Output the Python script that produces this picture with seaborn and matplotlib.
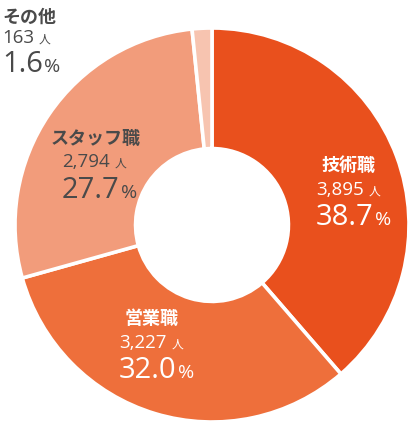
import seaborn as sns
import matplotlib.pyplot as plt

# データ
categories = ["技術職", "営業職", "スタッフ職", "その他"]
counts = [3895, 3227, 2794, 163]
percents = [38.7, 32.0, 27.7, 1.6]
colors = sns.color_palette(["#E9501D", "#EE6F3B", "#F29C7B", "#F7C4B0"])

sns.set_style("white")
plt.rcParams["font.family"] = ["Noto Sans CJK JP", "DejaVu Sans"]

fig = plt.figure(figsize=(4.17, 4.32), dpi=100)
# 中心 (212,225) 半径 197px
cx, cy, R = 212, 225, 197
W, H = 417, 432
ax = fig.add_axes([(cx - R) / W, (H - cy - R) / H, 2 * R / W, 2 * R / H])

ax.pie(
    counts,
    colors=colors,
    startangle=90,
    counterclock=False,
    radius=1,
    wedgeprops={"width": 0.612, "edgecolor": "white", "linewidth": 2.6},
)
ax.set_xlim(-1, 1)
ax.set_ylim(-1, 1)
ax.set_aspect("equal")
ax.axis("off")


def px(x, y):
    return (x - cx) / R, (cy - y) / R


# ラベル配置 (ピクセル): 名前中心x, 名前ベースライン, 数字左端, 数字ベースライン, %ベースライン, 色
label_pos = [
    (348, 171, 316, 195, 225, "white"),
    (152, 324, 119, 348, 378, "white"),
    (96, 144, 62, 167, 198, "#4a4a4a"),
    (29, 23, 2, 43, 72, "#4a4a4a"),
]

num_font = ["Open Sans", "Noto Sans CJK JP"]
fig.canvas.draw()
renderer = fig.canvas.get_renderer()


def with_unit(x, y, value, unit, size, usize, gap, col, ufam):
    t = ax.text(*px(x, y), value, ha="left", va="baseline", fontsize=size,
                color=col, family=num_font)
    bb = t.get_window_extent(renderer)
    ux, uy = ax.transData.transform(px(x, y))
    ax.text(bb.x1 + gap, uy, unit, ha="left", va="baseline", fontsize=usize,
            color=col, family=ufam, transform=None)


for name, n, p, (nx, ny, lx, by, pby, col) in zip(
    categories, counts, percents, label_pos
):
    if name == "その他":
        ax.text(*px(2, ny), name, ha="left", va="baseline", fontsize=13,
                fontweight="bold", color=col)
    else:
        ax.text(*px(nx, ny), name, ha="center", va="baseline", fontsize=13,
                fontweight="bold", color=col)
    with_unit(lx, by, f"{n:,}", "人", 13.5, 8.5, 5, col, ["Noto Sans CJK JP"])
    with_unit(lx, pby, f"{p:.1f}", "%", 21, 14, 1, col, num_font)

fig.savefig("out.png", dpi=100)
